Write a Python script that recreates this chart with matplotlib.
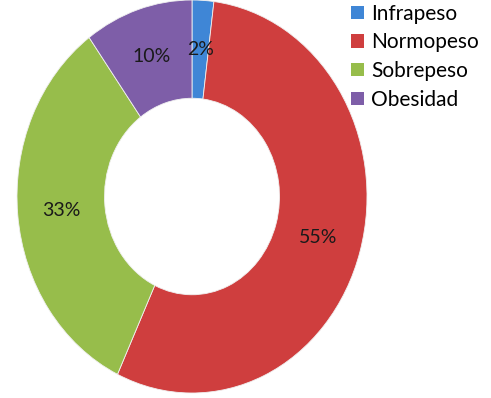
import matplotlib.pyplot as plt
from matplotlib.patches import Patch

categories = ['Infrapeso', 'Normopeso', 'Sobrepeso', 'Obesidad']
values = [2, 55, 33, 10]
colors = ['#3F86D6', '#CF3E3E', '#97BD4B', '#7E5EA8']

plt.rcParams['font.family'] = ['Lato', 'DejaVu Sans']

fig = plt.figure(figsize=(4.91, 3.98), dpi=100)
# donut is a bit taller than wide in the original, so use a stretched axes
ax = fig.add_axes([17 / 491, 5 / 398, 350 / 491, 393 / 398])

wedges, texts, autotexts = ax.pie(
    values, colors=colors, startangle=90, counterclock=False,
    autopct=lambda p: f'{p:.0f}%', pctdistance=0.75,
    wedgeprops=dict(width=0.5, edgecolor='#f0f0f0', linewidth=0.6),
    textprops=dict(fontsize=14, color='#1a1a1a'))

ax.set_aspect('auto')
ax.set_xlim(-1, 1)
ax.set_ylim(-1, 1)

handles = [Patch(facecolor=c, edgecolor='none') for c in colors]
fig.legend(handles, categories, loc='upper left', bbox_to_anchor=(343 / 491, 1.012),
           frameon=False, fontsize=15, handlelength=0.6, handleheight=0.6,
           handletextpad=0.35, labelspacing=0.42, borderaxespad=0)

fig.savefig('out.png', dpi=100)
